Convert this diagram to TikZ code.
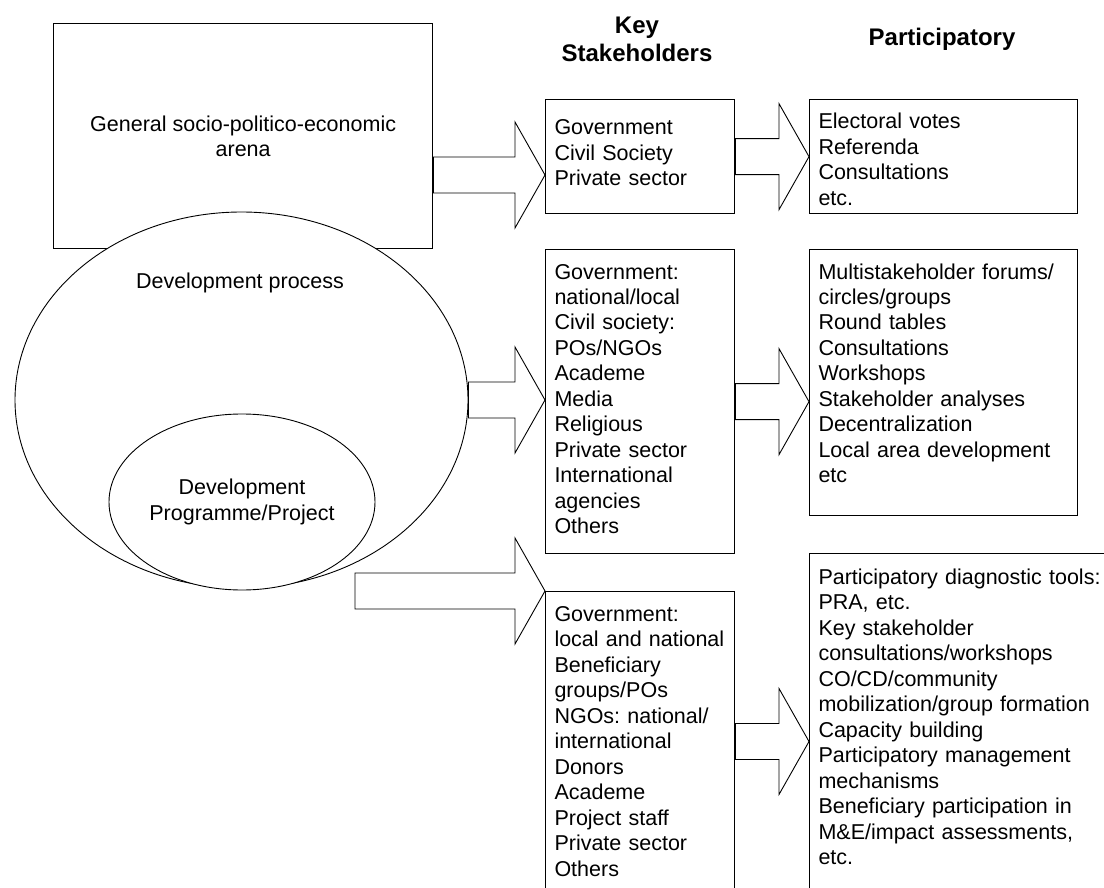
\documentclass[tikz,border=0pt]{standalone}
\usepackage{fontspec}
\setmainfont{Liberation Sans}
\usepackage{tikz}
\usetikzlibrary{calc, shapes.geometric}
\tikzset{every picture/.append style={line width=1pt}}
\frenchspacing

% fat outline arrow: start point, tip point (tip at the height of the start)
\def\bodyh{18pt}
\def\headh{53pt}
\def\headl{30pt}
\newcommand{\fatarrow}[2]{%
    \path[blockarrow] let \p1=(#1), \p2=(#2) in
        (\x1,\y1+\bodyh) -- (\x2-\headl,\y1+\bodyh) -- (\x2-\headl,\y1+\headh)
        -- (\x2,\y1) -- (\x2-\headl,\y1-\headh) -- (\x2-\headl,\y1-\bodyh)
        -- (\x1,\y1-\bodyh) -- cycle;
}

\begin{document}
\begin{tikzpicture}[x=1pt, y=-1pt,
    every node/.style={font=\fontsize{21.5}{25.5}\selectfont},
    box/.style={draw, line width=1.3pt, anchor=north west, inner sep=0pt},
    oval/.style={ellipse, draw, fill=white, line width=0.9pt, inner sep=0pt},
    list/.style={anchor=base west, inner sep=0pt, align=left, text width=330pt},
    head/.style={font=\fontsize{24}{28}\selectfont\bfseries, align=center},
    blockarrow/.style={draw, fill=white, line width=0.9pt, line join=miter}]

    \useasboundingbox (0,0) rectangle (1104,888);
    \clip (0,0) rectangle (1104,888);

    % ---------------------------------------------------
    % 1. Arena and development ellipses
    % ---------------------------------------------------
    \node[box, minimum width=379pt, minimum height=225pt, align=center] (arena) at (53,23)
        {General socio-politico-economic\\arena};

    \node[oval, minimum width=453pt, minimum height=376pt] (devproc) at (241.5,400) {};
    \node (devproctxt) at (240,283) {Development process};

    \node[oval, minimum width=266pt, minimum height=176pt, align=center] (devprog) at (242,502)
        {Development\\Programme/Project};

    % ---------------------------------------------------
    % 2. Column headings
    % ---------------------------------------------------
    \node[head] (hdks) at (637,39) {Key\\Stakeholders};
    \node[head] (hdpart) at (942,39) {Participatory};

    % ---------------------------------------------------
    % 3. Key stakeholder boxes
    % ---------------------------------------------------
    \node[box, minimum width=189pt, minimum height=114pt] (ks1) at (545,99) {};
    \node[list] (ks1txt) at ([shift={(9,36)}]ks1.north west)
        {Government\\Civil Society\\Private sector};

    \node[box, minimum width=189pt, minimum height=304pt] (ks2) at (545,249) {};
    \node[list] (ks2txt) at ([shift={(9,30)}]ks2.north west)
        {Government:\\national/local\\Civil society:\\POs/NGOs\\Academe\\Media\\Religious\\Private sector\\International\\agencies\\Others};

    \node[box, minimum width=189pt, minimum height=320pt] (ks3) at (545,591) {};
    \node[list] (ks3txt) at ([shift={(9,30)}]ks3.north west)
        {Government:\\local and national\\Beneficiary\\groups/POs\\NGOs: national/\\international\\Donors\\Academe\\Project staff\\Private sector\\Others};

    % ---------------------------------------------------
    % 4. Participatory boxes
    % ---------------------------------------------------
    \node[box, minimum width=268pt, minimum height=114pt] (part1) at (809,99) {};
    \node[list] (part1txt) at ([shift={(9,30)}]part1.north west)
        {Electoral votes\\Referenda\\Consultations\\etc.};

    \node[box, minimum width=268pt, minimum height=266pt] (part2) at (809,249) {};
    \node[list] (part2txt) at ([shift={(9,30)}]part2.north west)
        {Multistakeholder forums/\\circles/groups\\Round tables\\Consultations\\Workshops\\Stakeholder analyses\\Decentralization\\Local area development\\etc};

    \node[box, minimum width=330pt, minimum height=360pt] (part3) at (809,553) {};
    \node[list] (part3txt) at ([shift={(9,31)}]part3.north west)
        {Participatory diagnostic tools:\\PRA, etc.\\Key stakeholder\\consultations/workshops\\CO/CD/community\\mobilization/group formation\\Capacity building\\Participatory management\\mechanisms\\Beneficiary participation in\\M\&E/impact assessments,\\etc.};

    % ---------------------------------------------------
    % 5. Fat arrows
    % ---------------------------------------------------
    \coordinate (a1) at (0,175);
    \coordinate (a5) at (355,591);
    \coordinate (a6) at (0,741.5);

    \fatarrow{arena.east |- a1}{ks1.west |- a1}
    \fatarrow{ks1.east}{part1.west |- ks1.east}
    \fatarrow{devproc.east}{ks2.west |- devproc.east}
    \fatarrow{ks2.east}{part2.west |- ks2.east}
    \fatarrow{a5}{ks3.north west}
    \fatarrow{ks3.east |- a6}{part3.west |- a6}

\end{tikzpicture}
\end{document}
